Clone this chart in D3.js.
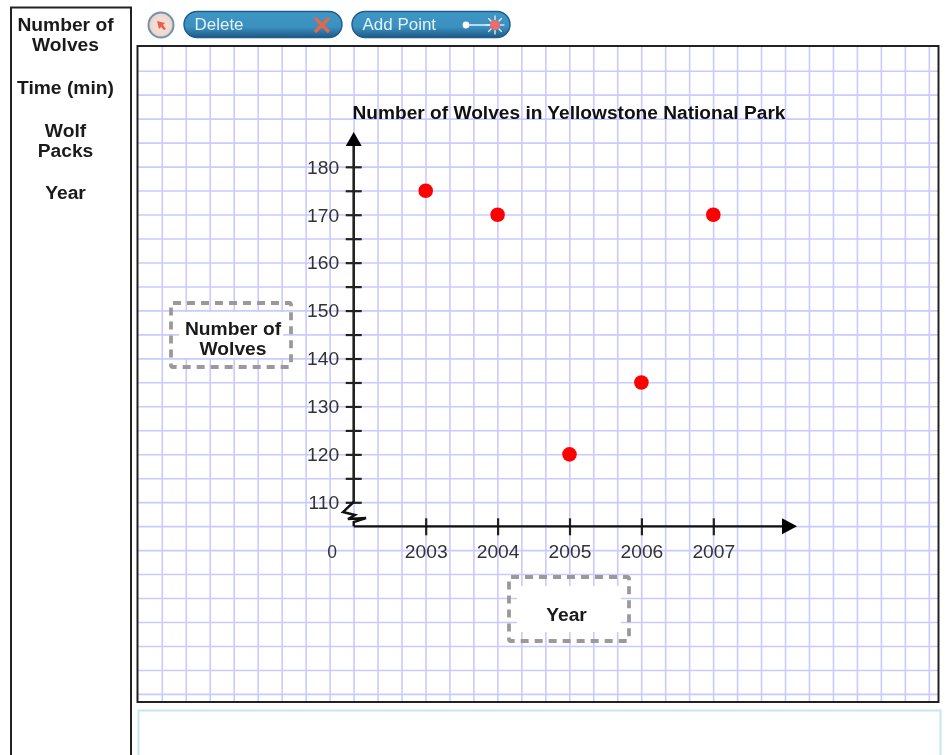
<html>
<head>
<title>Number of Wolves in Yellowstone National Park</title>
<script src="https://d3js.org/d3.v7.min.js"></script>
<style>
  html, body { margin: 0; padding: 0; background: #fff; overflow: hidden; }
  svg { display: block; filter: blur(0.55px); font-family: "Liberation Sans", Arial, sans-serif; }
</style>
</head>
<body>
<svg width="947" height="755"></svg>
<script type="text/javascript">

var years = [2003, 2004, 2005, 2006, 2007];
var wolves = [175, 170, 120, 135, 170];
var yTicks = [110, 115, 120, 125, 130, 135, 140, 145, 150, 155, 160, 165, 170, 175, 180];
var sideLabels = [["Number of", "Wolves"], ["Time (min)"], ["Wolf", "Packs"], ["Year"]];
var chartTitle = "Number of Wolves in Yellowstone National Park";
var yTitle = ["Number of", "Wolves"];
var xTitle = ["Year"];

var svg = d3.select("svg");
var defs = svg.append("defs");

// the original text is wider than Liberation Sans, so stretch it a bit
function widen(sel, factor) {
    sel.each(function() {
        var len = this.getComputedTextLength();
        if (len > 0) {
            d3.select(this).attr("textLength", len * factor).attr("lengthAdjust", "spacingAndGlyphs");
        }
    });
}

var pill = defs.append("linearGradient").attr("id", "pill")
    .attr("x1", 0).attr("y1", 0).attr("x2", 0).attr("y2", 1);
pill.append("stop").attr("offset", "0%").attr("stop-color", "#3f97c6");
pill.append("stop").attr("offset", "60%").attr("stop-color", "#3a90bf");
pill.append("stop").attr("offset", "100%").attr("stop-color", "#1d5a88");

var round = defs.append("radialGradient").attr("id", "round");
round.append("stop").attr("offset", "0%").attr("stop-color", "#f6e4dc");
round.append("stop").attr("offset", "80%").attr("stop-color", "#f0d8cf");
round.append("stop").attr("offset", "100%").attr("stop-color", "#d8c8c4");

// scales
var x = d3.scaleLinear().domain([2003, 2007]).range([425.7, 713.3]);
var y = d3.scaleLinear().domain([110, 180]).range([502.3, 166.8]);
var originX = 353.7, originY = 526.3;

// left panel
svg.append("rect").attr("x", 11).attr("y", 7.5).attr("width", 120).attr("height", 770)
    .attr("fill", "#fff").attr("stroke", "#222").attr("stroke-width", 2);

var sideY = [31, 94, 137, 199];
sideLabels.forEach(function(lines, i) {
    lines.forEach(function(t, j) {
        svg.append("text").attr("x", 65.5).attr("y", sideY[i] + j * 20)
            .attr("text-anchor", "middle").attr("font-size", 17.5).attr("font-weight", "bold")
            .attr("fill", "#1a1a1a").text(t)
            .call(widen, 1.1);
    });
});

// grid
var cell = 23.97;
var grid = svg.append("g").attr("stroke", "#cacaff").attr("stroke-width", 1.6);
d3.range(0, 33).forEach(function(k) {
    var gx = 162.3 + k * cell;
    grid.append("line").attr("x1", gx).attr("x2", gx).attr("y1", 47).attr("y2", 703);
});
d3.range(0, 27).forEach(function(k) {
    var gy = 71.2 + k * cell;
    grid.append("line").attr("x1", 138).attr("x2", 939).attr("y1", gy).attr("y2", gy);
});

svg.append("rect").attr("x", 137.5).attr("y", 46).attr("width", 801).attr("height", 656)
    .attr("fill", "none").attr("stroke", "#222").attr("stroke-width", 2);

// answer box below the grid
svg.append("rect").attr("x", 138.5).attr("y", 710.5).attr("width", 802).attr("height", 80)
    .attr("fill", "#fff").attr("stroke", "#c6e6ef").attr("stroke-width", 2);

// toolbar
function button(left, label, width) {
    var g = svg.append("g");
    g.append("rect").attr("x", left).attr("y", 11.5).attr("width", width).attr("height", 26).attr("rx", 13)
        .attr("fill", "url(#pill)").attr("stroke", "#1f5c88").attr("stroke-width", 1.4);
    g.append("text").attr("x", left + 10.5).attr("y", 30).attr("font-size", 16)
        .attr("fill", "#e4f1f8").text(label)
        .call(widen, 1.06);
    return g;
}

svg.append("circle").attr("cx", 161).attr("cy", 25).attr("r", 12.5)
    .attr("fill", "url(#round)").attr("stroke", "#6f93ad").attr("stroke-width", 2);
svg.append("path").attr("d", "M157,21 L165,23 L163,25 L166,29 L164,30 L161,27 L159,29 Z").attr("fill", "#e8604a");

button(184, "Delete", 158);
svg.append("path").attr("d", "M315,18 L329,32 M329,18 L315,32")
    .attr("stroke", "#e8654a").attr("stroke-width", 3.2).attr("fill", "none");

var add = button(352, "Add Point", 158);
add.append("line").attr("x1", 466).attr("x2", 494).attr("y1", 25).attr("y2", 25)
    .attr("stroke", "#e6f2f8").attr("stroke-width", 1.5);
add.append("circle").attr("cx", 466).attr("cy", 25).attr("r", 3.4).attr("fill", "#fff");
d3.range(0, 8).forEach(function(k) {
    var a = k * Math.PI / 4;
    add.append("line")
        .attr("x1", 495 + 5 * Math.cos(a)).attr("y1", 25 + 5 * Math.sin(a))
        .attr("x2", 495 + 9.5 * Math.cos(a)).attr("y2", 25 + 9.5 * Math.sin(a))
        .attr("stroke", "#e6f2f8").attr("stroke-width", 1.3);
});
add.append("circle").attr("cx", 495).attr("cy", 25).attr("r", 5).attr("fill", "#ef6a6a");

// title
svg.append("text").attr("x", 569).attr("y", 119).attr("text-anchor", "middle")
    .attr("font-size", 17.5).attr("font-weight", "bold")
    .attr("fill", "#111").text(chartTitle)
    .call(widen, 1.093);

// axis label boxes
function labelBox(bx, by, bw, bh, lines, tx, ty) {
    svg.append("rect").attr("x", bx + 8).attr("y", by + 9).attr("width", bw - 16).attr("height", bh - 18).attr("fill", "#fff");
    svg.append("rect").attr("x", bx).attr("y", by).attr("width", bw).attr("height", bh).attr("rx", 2)
        .attr("fill", "none").attr("stroke", "#9a9a9a").attr("stroke-width", 3.8).attr("stroke-dasharray", "8 6");
    lines.forEach(function(t, j) {
        svg.append("text").attr("x", tx).attr("y", ty + j * 20)
            .attr("text-anchor", "middle").attr("font-size", 17.5).attr("font-weight", "bold")
            .attr("fill", "#1a1a1a").text(t)
            .call(widen, 1.1);
    });
}
labelBox(171, 303, 120, 64, yTitle, 233, 335);
labelBox(509, 577, 120, 64, xTitle, 566.5, 621);

// y axis
var yAxis = svg.append("g").attr("transform", "translate(" + originX + ",0)")
    .call(d3.axisLeft(y).tickValues(yTicks).tickSize(0).tickPadding(10)
        .tickFormat(function(d) { return d % 10 === 0 ? d : ""; }));
yAxis.select(".domain").remove();
yAxis.selectAll(".tick line").attr("x1", -8).attr("x2", 8).attr("stroke", "#222").attr("stroke-width", 2.2);
yAxis.selectAll(".tick text").attr("font-family", "inherit").attr("font-size", 17.5)
    .attr("fill", "#333").attr("dy", "0.36em").attr("x", -14.5)
    .call(widen, 1.1);

svg.append("line").attr("x1", originX).attr("x2", originX).attr("y1", 143).attr("y2", 503)
    .attr("stroke", "#222").attr("stroke-width", 2.6);
svg.append("path").attr("d", "M" + originX + ",132 L" + (originX + 8) + ",146 L" + (originX - 8) + ",146 Z").attr("fill", "#000");

// axis break
svg.append("path")
    .attr("d", "M" + originX + ",502 L343,512 L355,515 L348,519 L366,518 L" + originX + ",522 L" + originX + "," + originY)
    .attr("fill", "none").attr("stroke", "#111").attr("stroke-width", 2.4);

// x axis
var xAxis = svg.append("g").attr("transform", "translate(0," + originY + ")")
    .call(d3.axisBottom(x).tickValues(years).tickSize(0).tickPadding(10).tickFormat(d3.format("d")));
xAxis.select(".domain").remove();
xAxis.selectAll(".tick line").attr("y1", -8).attr("y2", 9).attr("stroke", "#222").attr("stroke-width", 2.2);
xAxis.selectAll(".tick text").attr("font-family", "inherit").attr("font-size", 17.5)
    .attr("fill", "#333").attr("y", 31.5).attr("dy", 0)
    .call(widen, 1.1);

svg.append("line").attr("x1", originX).attr("x2", 785).attr("y1", originY).attr("y2", originY)
    .attr("stroke", "#111").attr("stroke-width", 2.2);
svg.append("path").attr("d", "M797,"+ originY + " L782," + (originY - 8) + " L782," + (originY + 8) + " Z").attr("fill", "#000");

svg.append("text").attr("x", 332).attr("y", originY + 31.5).attr("text-anchor", "middle")
    .attr("font-size", 17.5).attr("fill", "#333").text("0");

// points
svg.append("g").selectAll("circle")
    .data(years)
    .enter().append("circle")
    .attr("cx", function(d) { return x(d); })
    .attr("cy", function(d, i) { return y(wolves[i]); })
    .attr("r", 7.3)
    .attr("fill", "#ff0000");

</script>
</body>
</html>
